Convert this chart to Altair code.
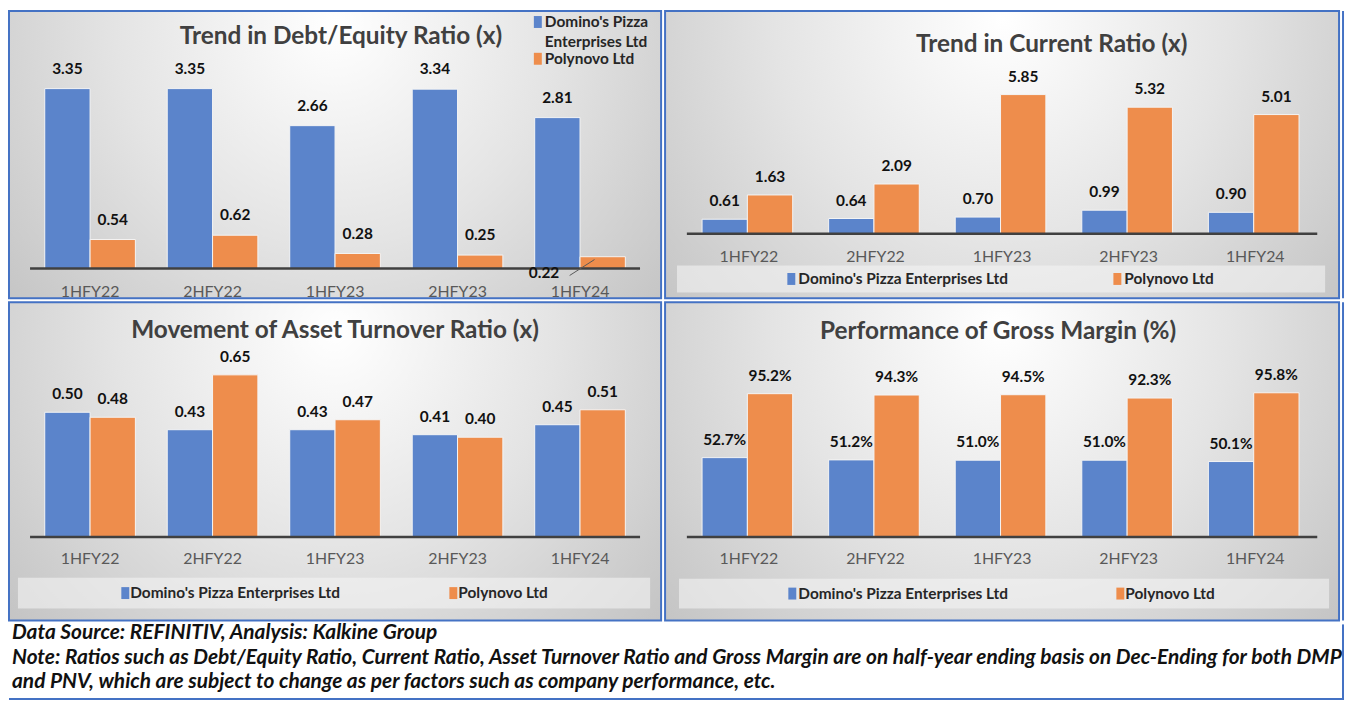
import altair as alt
import pandas as pd

FONT = "Lato"

periods = ["1HFY22", "2HFY22", "1HFY23", "2HFY23", "1HFY24"]
companies = ["Domino's Pizza Enterprises Ltd", "Polynovo Ltd"]
colors = ["#5b84cb", "#ee8d4c"]

de_dmp = [3.35, 3.35, 2.66, 3.34, 2.81]
de_pnv = [0.54, 0.62, 0.28, 0.25, 0.22]
cr_dmp = [0.61, 0.64, 0.70, 0.99, 0.90]
cr_pnv = [1.63, 2.09, 5.85, 5.32, 5.01]
at_dmp = [0.50, 0.43, 0.43, 0.41, 0.45]
at_pnv = [0.48, 0.65, 0.47, 0.40, 0.51]
gm_dmp = [52.7, 51.2, 51.0, 51.0, 50.1]
gm_pnv = [95.2, 94.3, 94.5, 92.3, 95.8]

titles = [
    "Trend in Debt/Equity Ratio (x)",
    "Trend in Current Ratio (x)",
    "Movement of Asset Turnover Ratio (x)",
    "Performance of Gross Margin (%)",
]
footer_lines = [
    "Data Source: REFINITIV, Analysis: Kalkine Group",
    "Note: Ratios such as Debt/Equity Ratio, Current Ratio, Asset Turnover Ratio and Gross Margin are on half-year ending basis on Dec-Ending for both DMP",
    "and PNV, which are subject to change as per factors such as company performance, etc.",
]

one = pd.DataFrame({"k": [0]})
PI, PO = 0.26, 0.30
TITLE_SIZE, VALUE_SIZE, AXIS_SIZE, LEGEND_SIZE, FOOT_SIZE = 24.5, 15.5, 16, 15.5, 21
FRAME = "#4472c4"

gradient = alt.RadialGradient(
    gradient="radial",
    stops=[alt.GradientStop(color="#ffffff", offset=0),
           alt.GradientStop(color="#e4e4e4", offset=0.45),
           alt.GradientStop(color="#bcbcbc", offset=1)],
    x1=0.5, y1=0.3, r1=0, x2=0.5, y2=0.3, r2=0.75,
)


def panel(dmp, pnv, title, W, H, c):
    df = pd.DataFrame({
        "period": periods * 2,
        "company": [companies[0]] * 5 + [companies[1]] * 5,
        "value": dmp + pnv,
    })
    df["label"] = [c["fmt"].format(v) for v in df["value"]]
    step = W / (len(periods) - PI + 2 * PO)
    x0 = step * (PO - 0.12)
    x1 = W - x0
    xenc = alt.X("period:N", sort=periods, axis=None,
                 scale=alt.Scale(domain=periods, paddingInner=PI, paddingOuter=PO))
    xoff = alt.XOffset("company:N", sort=companies,
                       scale=alt.Scale(domain=companies, paddingInner=0, paddingOuter=0))
    base, ppu = c["y"]
    ymin = -(H - base) / ppu
    ymax = ymin + H / ppu
    yenc = alt.Y("value:Q", axis=None,
                 scale=alt.Scale(domain=[ymin, ymax], nice=False, zero=False))
    col = alt.Color("company:N", scale=alt.Scale(domain=companies, range=colors), legend=None)

    layers = []
    layers.append(alt.Chart(one).mark_rect(fill=gradient, stroke=FRAME, strokeWidth=2).encode(
        x=alt.value(1), x2=alt.value(W - 1), y=alt.value(1), y2=alt.value(H - 1)))
    layers.append(alt.Chart(one).mark_text(text=title, fontSize=TITLE_SIZE, fontWeight="bold",
                                           color="#404040", font=FONT).encode(
        x=alt.value(c["title"][0]), y=alt.value(c["title"][1])))
    layers.append(alt.Chart(df).mark_bar(stroke="#f4f4f4", strokeWidth=1).encode(
        x=xenc, xOffset=xoff, y=yenc, y2=alt.Y2(datum=0), color=col))
    layers.append(alt.Chart(one).mark_rule(color="#404040", strokeWidth=2.5).encode(
        x=alt.value(x0), x2=alt.value(x1), y=alt.value(base)))
    special = c.get("special")
    lab = alt.Chart(df)
    if special:
        lab = lab.transform_filter(
            f"!(datum.period == '{special[0]}' && datum.company == '{special[1]}')")
    layers.append(lab.mark_text(dy=c["dy"], fontSize=VALUE_SIZE, fontWeight="bold",
                                color="#111111", font=FONT).encode(
        x=xenc, xOffset=xoff, y=yenc, text="label:N"))
    if special:
        layers.append(alt.Chart(df).transform_filter(
            f"datum.period == '{special[0]}' && datum.company == '{special[1]}'"
        ).mark_text(dx=special[2], dy=special[3], fontSize=VALUE_SIZE, fontWeight="bold",
                    color="#111111", font=FONT).encode(
            x=xenc, xOffset=xoff, y=yenc, text="label:N"))
        lx, ly, lx2, ly2 = special[4]
        layers.append(alt.Chart(one).mark_rule(color="#595959", strokeWidth=1).encode(
            x=alt.value(lx), y=alt.value(ly), x2=alt.value(lx2), y2=alt.value(ly2)))
    layers.append(alt.Chart(pd.DataFrame({"period": periods})).mark_text(
        fontSize=AXIS_SIZE, color="#595959", font=FONT).encode(
        x=xenc, y=alt.value(c["xlab_y"]), text="period:N"))

    leg = c["legend"]
    if leg["type"] == "bottom":
        bx0, by0, bx1, by1 = leg["box"]
        layers.append(alt.Chart(one).mark_rect(fill="#f4f4f4", opacity=0.6).encode(
            x=alt.value(bx0), x2=alt.value(bx1), y=alt.value(by0), y2=alt.value(by1)))
        cy = (by0 + by1) / 2
        for i, (sx, tx) in enumerate(leg["items"]):
            layers.append(alt.Chart(one).mark_rect(fill=colors[i]).encode(
                x=alt.value(sx), x2=alt.value(sx + 8), y=alt.value(cy - 6), y2=alt.value(cy + 6)))
            layers.append(alt.Chart(one).mark_text(
                text=companies[i], align="left", baseline="middle", fontSize=LEGEND_SIZE,
                fontWeight="bold", color="#262626", font=FONT).encode(
                x=alt.value(tx), y=alt.value(cy)))
    else:
        sx, tx = leg["x"]
        for i, (sy, lines) in enumerate(leg["items"]):
            layers.append(alt.Chart(one).mark_rect(fill=colors[i]).encode(
                x=alt.value(sx), x2=alt.value(sx + 8), y=alt.value(sy - 6), y2=alt.value(sy + 6)))
            for j, line in enumerate(lines):
                layers.append(alt.Chart(one).mark_text(
                    text=line, align="left", baseline="middle", fontSize=LEGEND_SIZE,
                    fontWeight="bold", color="#262626", font=FONT).encode(
                    x=alt.value(tx), y=alt.value(sy + 20 * j)))

    return alt.layer(*layers).properties(width=W, height=H)


def strip(H):
    # right edge of the outer frame
    return alt.Chart(one).mark_rule(color=FRAME, strokeWidth=2, strokeCap="butt").encode(
        x=alt.value(1), y=alt.value(1), y2=alt.value(H - 1)).properties(width=2, height=H)


W_L, W_R, H_T, H_B = 658, 680, 291, 322

tl = panel(de_dmp, de_pnv, titles[0], W_L, H_T, {
    "y": (260, 54.03), "fmt": "{:.2f}", "dy": -20,
    "title": (335, 27), "xlab_y": 284,
    "special": ("1HFY24", companies[1], -59, 16, (565, 267, 590, 251)),
    "legend": {"type": "side", "x": (529, 540),
               "items": [(12, ["Domino's Pizza", "Enterprises Ltd"]), (49, ["Polynovo Ltd"])]},
})
tr = panel(cr_dmp, cr_pnv, titles[1], W_R, H_T, {
    "y": (225, 23.93), "fmt": "{:.2f}", "dy": -18,
    "title": (390, 35), "xlab_y": 248,
    "legend": {"type": "bottom", "box": (13, 257, 665, 284),
               "items": [(124, 135), (452, 463)]},
})
bl = panel(at_dmp, at_pnv, titles[2], W_L, H_B, {
    "y": (237, 250.8), "fmt": "{:.2f}", "dy": -18,
    "title": (329, 30), "xlab_y": 259,
    "legend": {"type": "bottom", "box": (10, 278, 646, 309),
               "items": [(114, 123), (444, 453)]},
})
br = panel(gm_dmp, gm_pnv, titles[3], W_R, H_B, {
    "y": (237, 1.5136), "fmt": "{:.1f}%", "dy": -18,
    "title": (336, 31), "xlab_y": 259,
    "legend": {"type": "bottom", "box": (15, 279, 669, 309),
               "items": [(125, 135), (455, 464)]},
})

fdf = pd.DataFrame({"line": footer_lines, "row": list(range(len(footer_lines)))})
footer = alt.layer(
    alt.Chart(fdf).mark_text(align="left", baseline="middle", fontSize=FOOT_SIZE,
                             fontWeight="bold", fontStyle="italic", color="#111111",
                             font=FONT).encode(
        x=alt.value(4),
        y=alt.Y("row:O", axis=None, scale=alt.Scale(type="point", range=[10, 59], padding=0)),
        text="line:N"),
    alt.Chart(one).mark_rule(color=FRAME, strokeWidth=2, strokeCap="butt").encode(
        x=alt.value(1), x2=alt.value(1344), y=alt.value(76)),
    alt.Chart(one).mark_rule(color=FRAME, strokeWidth=2, strokeCap="butt").encode(
        x=alt.value(1343), y=alt.value(1), y2=alt.value(77)),
).properties(width=1345, height=78)

chart = alt.vconcat(
    alt.hconcat(tl, tr, strip(H_T), spacing=2),
    alt.hconcat(bl, br, strip(H_B), spacing=2),
    footer,
    spacing=1,
).properties(padding=0, background="white").configure_view(stroke=None)

chart.save("out.html", embed_options={"renderer": "svg", "actions": False})
